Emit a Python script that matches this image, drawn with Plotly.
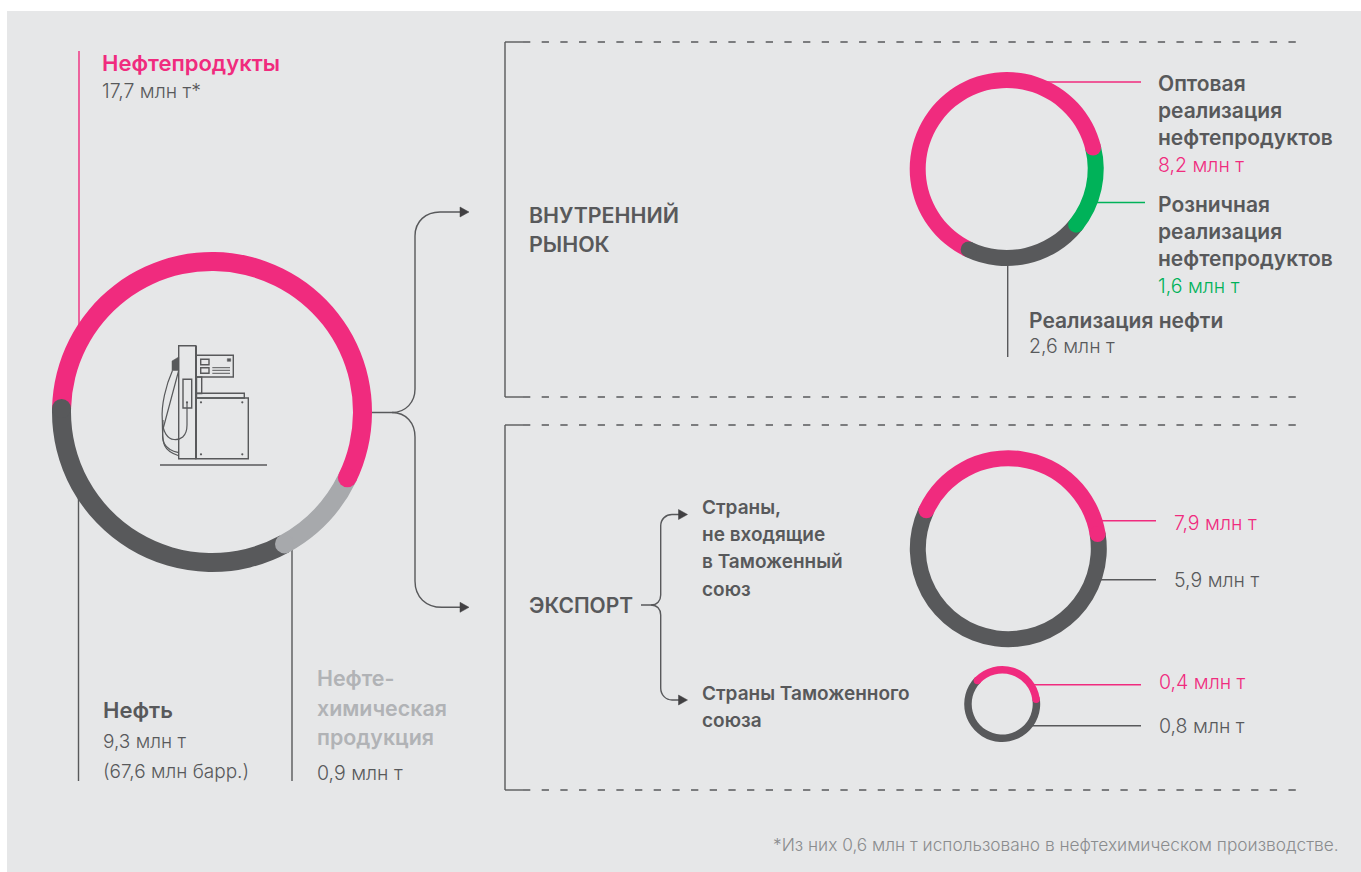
import numpy as np
import plotly.graph_objects as go

WIDTH = 1361
HEIGHT = 872

PINK = "#f02b7e"
DARK = "#58595b"
LIGHT = "#a7a9ac"
GREEN = "#00b259"
BG = "#e6e7e8"
LINE = "#58595b"
FONT = "Inter"

# arc lengths in degrees (the rings are not strictly to scale)
products_sweep = [204.6, 35.3, 120.1]
products_colors = [PINK, LIGHT, DARK]
domestic_sweep = [230.7, 52.7, 76.6]
domestic_colors = [PINK, GREEN, DARK]
export_far_sweep = [145.6, 214.4]
export_near_sweep = [128.4, 231.6]
export_colors = [PINK, DARK]

products_label = ["Нефтепродукты"]
products_value = ["17,7 млн т*"]
oil_label = ["Нефть"]
oil_value = ["9,3 млн т", "(67,6 млн барр.)"]
petchem_label = ["Нефте-", "химическая", "продукция"]
petchem_value = ["0,9 млн т"]
market_label = ["ВНУТРЕННИЙ", "РЫНОК"]
export_label = ["ЭКСПОРТ"]
far_label = ["Страны,", "не входящие", "в Таможенный", "союз"]
near_label = ["Страны Таможенного", "союза"]
wholesale_label = ["Оптовая", "реализация", "нефтепродуктов"]
wholesale_value = ["8,2 млн т"]
retail_label = ["Розничная", "реализация", "нефтепродуктов"]
retail_value = ["1,6 млн т"]
crude_label = ["Реализация нефти"]
crude_value = ["2,6 млн т"]
far_values = ["7,9 млн т", "5,9 млн т"]
near_values = ["0,4 млн т", "0,8 млн т"]
footnote = "*Из них 0,6 млн т использовано в нефтехимическом производстве."

shapes = []
notes = []


def line(x0, y0, x1, y1, color=LINE, width=1.4, dash=None, layer="below"):
    shapes.append(dict(type="line", x0=x0, y0=y0, x1=x1, y1=y1, layer=layer,
                       line=dict(color=color, width=width, dash=dash)))


def rect(x0, y0, x1, y1, color=LINE, width=1.4, fill=None):
    shapes.append(dict(type="rect", x0=x0, y0=y0, x1=x1, y1=y1, layer="below",
                       fillcolor=fill, line=dict(color=color, width=width)))


def dot(x, y, r, color, layer="above"):
    shapes.append(dict(type="circle", x0=x - r, y0=y - r, x1=x + r, y1=y + r, layer=layer,
                       fillcolor=color, line=dict(width=0)))


def path(d, color=LINE, width=1.4, fill=None):
    shapes.append(dict(type="path", path=d, layer="below", fillcolor=fill,
                       line=dict(color=color, width=width)))


def arrow(x, y):
    path(f"M{x},{y - 5} L{x + 9},{y} L{x},{y + 5} Z", color="#414042", width=0.5, fill="#414042")


def text(lines, x, ys, color=DARK, size=19.5, weight=300, anchor="left"):
    # annotations carry about 2px of padding, take it off so x is the ink edge
    x = x - 2 if anchor == "left" else x + 2
    for s, y in zip(lines, ys):
        notes.append(dict(text=s, x=x, y=y, xanchor=anchor, yanchor="middle", showarrow=False,
                          xref="x", yref="y", align=anchor,
                          font=dict(family=FONT, size=size, color=color, weight=weight)))


def ring(fig, cx, cy, r, thick, sweep, colors, start, cap_colors):
    # donut from a pie trace, rounded segment ends drawn over it as circles
    fig.add_trace(go.Pie(values=sweep, sort=False, direction="clockwise", rotation=start,
                         hole=(r - thick) / r, textinfo="none", hoverinfo="skip", showlegend=False,
                         marker=dict(colors=colors, line=dict(width=0)),
                         domain=dict(x=[(cx - r) / WIDTH, (cx + r) / WIDTH],
                                     y=[1 - (cy + r) / HEIGHT, 1 - (cy - r) / HEIGHT])))
    ends = start + np.cumsum(sweep)
    mid = r - thick / 2
    for end, c in zip(ends, cap_colors):
        if c is None:
            continue
        a = np.radians(end)
        dot(cx + mid * np.sin(a), cy - mid * np.cos(a), thick / 2, c)


fig = go.Figure()
fig.add_trace(go.Scatter(x=[0, WIDTH], y=[0, HEIGHT], mode="none", hoverinfo="skip", showlegend=False))

# panel
rect(7, 11, WIDTH + 5, HEIGHT + 5, color=BG, width=0, fill=BG)

# leader lines
line(79, 51, 79, 330, color=PINK)
line(78.5, 490, 78.5, 781)
line(292, 545, 292, 781)
line(1045, 82, 1141, 82, color=PINK)
line(1095, 202.5, 1145, 202.5, color=GREEN)
line(1007.7, 260, 1007.7, 357)
line(1100, 520.7, 1156, 520.7, color=PINK)
line(1098, 579.7, 1156, 579.7)
line(1030, 684.7, 1141, 684.7, color=PINK)
line(1028, 725.7, 1141, 725.7)

# brackets with dashed tails
for y in [42, 397, 425, 790]:
    line(505, y, 523, y)
    line(523, y, 1296, y, dash="7.3px,11.37px", width=1.6)
line(505, 42, 505, 397)
line(505, 425, 505, 790)

# main split
path("M372,412.5 L392,412.5 C406,412.5 415,402 415,389 L415,236 C415,221 426,212 440,212 L460,212")
path("M392,412.5 C406,412.5 415,423 415,437 L415,581 C415,597 426,607.3 442,607.3 L460,607.3")
arrow(460, 212)
arrow(460, 607.3)

# export split
path("M641,605 L651,605 C657,605 660.7,601 660.7,595 L660.7,526 C660.7,519 666,514.5 672,514.5 L679,514.5")
path("M651,605 C657,605 660.7,609 660.7,615 L660.7,688 C660.7,695 666,700 672,700 L679,700")
arrow(678.5, 514.5)
arrow(678.5, 700)

# pump icon
line(160, 465, 267, 465, width=1.6)
rect(178.7, 345.7, 195.7, 458.7)
rect(196, 355.3, 233.3, 377)
rect(200.7, 359.3, 209, 364.7)
rect(200.7, 367.7, 209, 373.3)
rect(227.3, 358.7, 230.7, 361.3, fill=LINE, width=0.5)
for y in [367.7, 370.3, 373.3]:
    line(212.3, y, 230, y, width=1)
rect(196.5, 377, 201.7, 393.5)
rect(196.5, 393.3, 244.3, 398)
rect(196, 398, 248.3, 458.7)
rect(183, 379.3, 191.7, 408)
line(196, 345.7, 196, 458.7, width=2)
for x, y in [(201, 402.3), (242.3, 402.3), (201, 454.3), (242.3, 454.3), (187, 402.3)]:
    dot(x, y, 1.1, LINE, layer="below")
path("M172,370.5 L172,361 L178.7,357 L178.7,370.5 Z", width=0.5, fill=LINE)
path("M172.5,370.5 C166,385 161,405 162.3,420 C163,440 160,450 178.7,455.7", width=1.2)
path("M178.7,370.5 L163.3,428 C161,440 163,449 178.7,452.7", width=1.2)
path("M187,402.3 L187,425 C187,437 180,440 174,439.5 C168,439 162,432 163,420", width=1.2)

# rings
ring(fig, 212, 412, 160, 19, products_sweep, products_colors, 271.3, [PINK, LIGHT, DARK])
ring(fig, 1006.7, 169, 97, 16, domestic_sweep, domestic_colors, 205.3, [PINK, GREEN, DARK])
ring(fig, 1008.3, 548.7, 98.5, 16, export_far_sweep, export_colors, 295.1, [PINK, PINK])
ring(fig, 1002.2, 704, 38, 7.5, export_near_sweep, export_colors, 313.6, [PINK, PINK])

# texts
HEAD = dict(size=22, weight=600)
CAPS = dict(size=21.4, weight=600)
SUB = dict(size=19, weight=600)
WIDE = dict(size=21, weight=600)
text(products_label, 102, [63], color=PINK, **HEAD)
text(products_value, 102, [91])
text(oil_label, 102.5, [710], **HEAD)
text(oil_value, 102.5, [741, 771], size=19)
text(petchem_label, 317, [678, 708, 737], color="#b1b3b6", **CAPS)
text(petchem_value, 317, [773])
text(market_label, 529, [215, 244], **CAPS)
text(export_label, 529, [605], **WIDE)
text(far_label, 702, [507, 534, 561, 589], **SUB)
text(near_label, 702, [693, 720], **SUB)
text(wholesale_label, 1158, [83, 110, 137], **WIDE)
text(wholesale_value, 1158, [165], color=PINK)
text(retail_label, 1158, [204, 231, 258], **WIDE)
text(retail_value, 1158, [286], color=GREEN)
text(crude_label, 1029, [320], **WIDE)
text(crude_value, 1029, [346])
text(far_values, 1174, [523, 580])
text(near_values, 1159, [682, 726])
notes[-4]["font"]["color"] = PINK
notes[-2]["font"]["color"] = PINK
text([footnote], 1339, [844], color="#8a8c8e", size=17.3)
notes[-1].update(xanchor="right", x=1341)

fig.update_layout(
    width=WIDTH, height=HEIGHT, margin=dict(l=0, r=0, t=0, b=0), autosize=False,
    paper_bgcolor="white", plot_bgcolor="rgba(0,0,0,0)",
    xaxis=dict(range=[0, WIDTH], visible=False, fixedrange=True),
    yaxis=dict(range=[HEIGHT, 0], visible=False, fixedrange=True),
    shapes=shapes, annotations=notes, showlegend=False,
)

fig.write_html("out.html", config=dict(displayModeBar=False),
               post_script="document.body.style.margin='0';document.documentElement.style.overflow='hidden';")
